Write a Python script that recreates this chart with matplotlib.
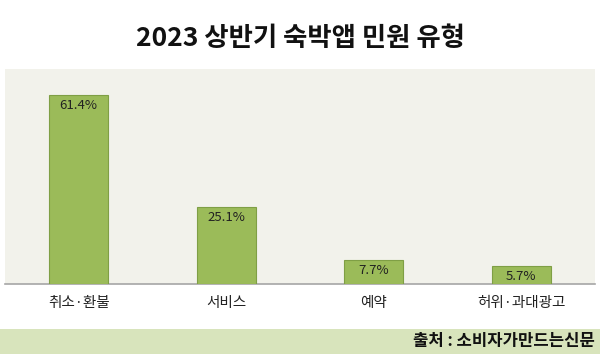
import matplotlib
matplotlib.use("Agg")
import matplotlib.pyplot as plt
from matplotlib.patches import Rectangle

plt.rcParams['font.family'] = ['Noto Sans CJK KR', 'DejaVu Sans']

categories = ['취소·환불', '서비스', '예약', '허위·과대광고']
values = [61.4, 25.1, 7.7, 5.7]
labels = ['61.4%', '25.1%', '7.7%', '5.7%']

W, H = 600, 354
fig = plt.figure(figsize=(W/100, H/100), dpi=100)
fig.patch.set_facecolor('white')

# plot area: x 5..595, y 69..284 (px from top)
ax = fig.add_axes([5/W, 1-284/H, 590/W, (284-69)/H])
ax.set_facecolor('#f2f2eb')
x = list(range(len(categories)))
ax.bar(x, values, width=0.4, color='#9bbb59', edgecolor='#7f9f45', linewidth=0.8, zorder=3)
for xi, v, lab in zip(x, values, labels):
    ax.text(xi, v - 1.2, lab, ha='center', va='top', fontsize=9.5, color='#222222', zorder=4)
ax.set_xlim(-0.5, 3.5)
ax.set_ylim(0, 70)
ax.set_yticks([])
ax.set_xticks(x)
ax.set_xticklabels(categories, fontsize=10.5, color='#222222')
ax.tick_params(axis='x', length=0, pad=9)
for s in ['top', 'left', 'right']:
    ax.spines[s].set_visible(False)
ax.spines['bottom'].set_color('#a6a6a6')
ax.spines['bottom'].set_linewidth(1.2)

fig.text(0.5, 1-38/H, '2023 상반기 숙박앱 민원 유형', ha='center', va='center',
         fontsize=19, fontweight='bold', color='#111111')

# bottom source band
fig.add_artist(Rectangle((0, 0), 1, (354-329)/H, transform=fig.transFigure,
                         facecolor='#d8e4bc', edgecolor='none'))
fig.text(1-5/W, (354-341)/H, '출처 : 소비자가만드는신문', ha='right', va='center',
         fontsize=12, fontweight='bold', color='#111111')

fig.savefig('out.png', dpi=100)
